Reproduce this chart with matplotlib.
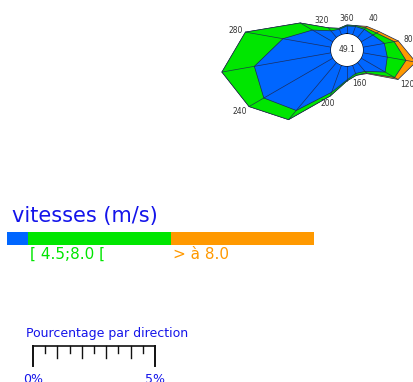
import numpy as np
import matplotlib
matplotlib.use("Agg")
import matplotlib.pyplot as plt

# Wind directions (degrees) and share of observations per speed class (%)
directions = [0, 20, 40, 60, 80, 100, 120, 140, 160, 180,
              200, 220, 240, 260, 280, 300, 320, 340]
pct_low = [0.33, 0.37, 0.45, 0.57, 0.90, 1.02, 1.15, 0.49, 0.37, 0.57,
           1.19, 2.58, 3.28, 3.20, 2.01, 0.98, 0.37, 0.25]
pct_mid = [0.04, 0.04, 0.08, 0.17, 0.41, 0.78, 0.45, 0.08, 0.08, 0.04,
           0.16, 0.49, 0.70, 1.35, 1.56, 0.58, 0.16, 0.04]
pct_high = [0.00, 0.00, 0.08, 0.12, 0.17, 0.41, 0.16, 0.04, 0.00, 0.00,
            0.00, 0.00, 0.00, 0.00, 0.00, 0.00, 0.00, 0.00]
calm_pct = 49.1

class_labels = ["", "[ 4.5;8.0 [", "> à 8.0"]
class_colors = ["#0066ff", "#00e600", "#ff9900"]
label_directions = [0, 40, 80, 120, 160, 200, 240, 280, 320]
scale_labels = ["0%", "5%"]
scale_max = 5

W, H = 413, 382
PX_PER_PCT = 24.4
HOLE_PX = 16
TEXT_BLUE = "#1414ea"
EDGE = "#1d2850"

fig = plt.figure(figsize=(W / 100, H / 100), dpi=100)

# ---- wind rose -------------------------------------------------------
cx, cy, R = 347, 50, 140
ax = fig.add_axes([(cx - R) / W, (H - cy - R) / H, 2 * R / W, 2 * R / H],
                  projection="polar")
ax.set_theta_zero_location("N")
ax.set_theta_direction(-1)
r_origin = HOLE_PX / PX_PER_PCT
ax.set_rorigin(-r_origin)
ax.set_rlim(0, R / PX_PER_PCT - r_origin)
ax.patch.set_visible(False)
ax.grid(False)
ax.set_xticks([])
ax.set_yticks([])
for sp in ax.spines.values():
    sp.set_visible(False)

theta = np.deg2rad(directions)
cum_low = np.array(pct_low)
cum_mid = cum_low + np.array(pct_mid)
cum_high = cum_mid + np.array(pct_high)

def closed(a):
    return np.append(a, a[0])

for cum, col in [(cum_high, class_colors[2]), (cum_mid, class_colors[1]),
                 (cum_low, class_colors[0])]:
    ax.fill(closed(theta), closed(cum), facecolor=col, edgecolor=EDGE,
            linewidth=0.5, clip_on=False, zorder=1)

# spokes
for t, r in zip(theta, cum_high):
    ax.plot([t, t], [0, r], color=EDGE, linewidth=0.5, alpha=0.9,
            clip_on=False, zorder=2)

# central hole with calm percentage
circ = np.linspace(0, 2 * np.pi, 120)
ax.fill(circ, np.zeros_like(circ), facecolor="white", edgecolor="none",
        zorder=5, clip_on=False)
ax.text(0.5, 0.5, f"{calm_pct:.1f}", transform=ax.transAxes, ha="center",
        va="center", fontsize=5.5, color="#333333", zorder=6)

# direction labels, pushed out past the outer vertex
for d in label_directions:
    i = directions.index(d)
    t = np.deg2rad(d)
    pad_px = 3 + 7 * abs(np.sin(t)) + 3 * abs(np.cos(t))
    ax.text(t, cum_high[i] + pad_px / PX_PER_PCT, str(360 if d == 0 else d),
            ha="center", va="center", fontsize=5.5, color="#333333",
            clip_on=False)

# ---- speed legend ----------------------------------------------------
fig.text(12 / W, 1 - 222 / H, "vitesses (m/s)", fontsize=15,
         color=TEXT_BLUE, va="baseline", ha="left")

seg_widths = [21, 143, 143]
lax = fig.add_axes([7 / W, (H - 245) / H, sum(seg_widths) / W, 13 / H])
lax.set_xlim(0, sum(seg_widths))
lax.set_ylim(0, 1)
lax.axis("off")
lefts = np.cumsum([0] + seg_widths[:-1])
lax.barh([0.5] * 3, seg_widths, left=lefts, height=1, color=class_colors)
for left, w, lab, col in zip(lefts, seg_widths, class_labels, class_colors):
    if lab:
        fig.text((7 + left + 2) / W, 1 - 259 / H, lab, fontsize=11,
                 color=col, va="baseline", ha="left")

# ---- percentage scale ------------------------------------------------
fig.text(26 / W, 1 - 337 / H, "Pourcentage par direction", fontsize=9,
         color=TEXT_BLUE, va="baseline", ha="left")

sax = fig.add_axes([33 / W, (H - 366) / H, scale_max * PX_PER_PCT / W, 20 / H])
sax.set_xlim(0, scale_max)
sax.set_ylim(-20, 0)
sax.axis("off")
sax.plot([0, scale_max], [0, 0], color="#111111", linewidth=1.2,
         clip_on=False)
for k in range(2 * scale_max + 1):
    v = k / 2
    if k in (0, 2 * scale_max):
        depth = 20
    elif k % 2 == 0:
        depth = 12
    else:
        depth = 7
    sax.plot([v, v], [0, -depth], color="#111111",
             linewidth=1.4 if depth == 20 else 1.0, clip_on=False)
for v, lab in zip([0, scale_max], scale_labels):
    sax.text(v, -27, lab, ha="center", va="top", fontsize=9,
             color=TEXT_BLUE, clip_on=False)

fig.savefig("out.png", dpi=100)
